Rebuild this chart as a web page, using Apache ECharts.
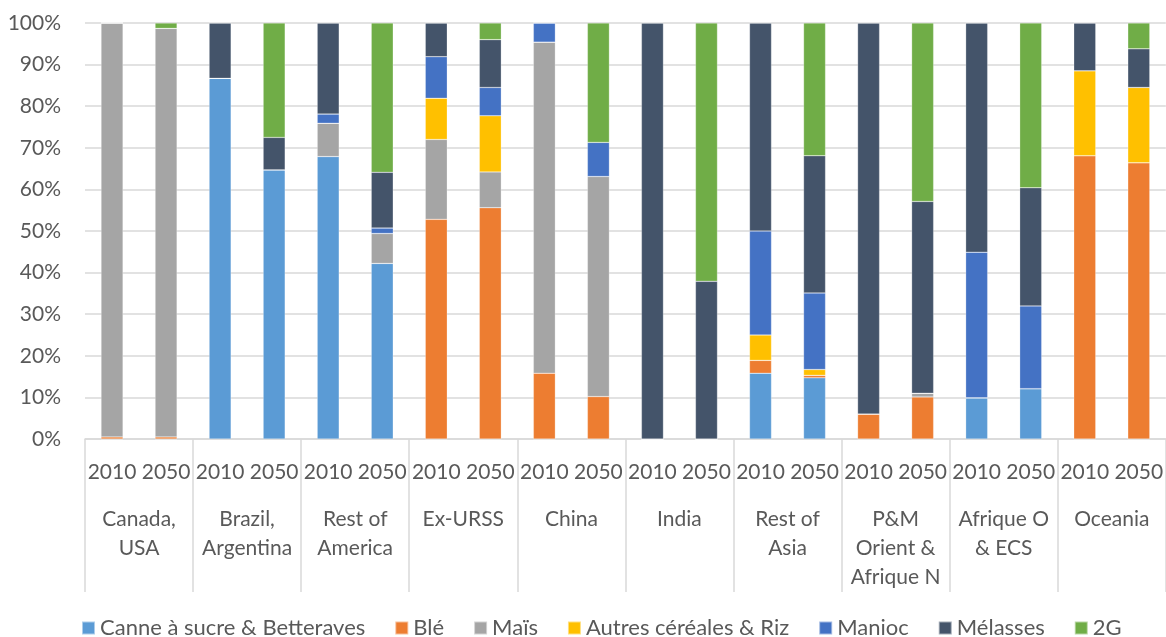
<!DOCTYPE html>
<html>
<head>
<meta charset="utf-8">
<script src="https://cdn.jsdelivr.net/npm/echarts@6/dist/echarts.min.js"></script>
<style>
  html, body { margin: 0; padding: 0; background: #fff; }
  #chart { width: 1166px; height: 637px; }
</style>
</head>
<body>
<div id="chart"></div>
<script>
// regions, each with a 2010 and a 2050 bar
var regions = ['Canada,\nUSA', 'Brazil,\nArgentina', 'Rest of\nAmerica', 'Ex-URSS', 'China', 'India',
  'Rest of\nAsia', 'P&M\nOrient &\nAfrique N', 'Afrique O\n& ECS', 'Oceania'];
var years = ['2010', '2050'];

// shares in %, order: Canada 2010, 2050, Brazil 2010, 2050, ...
var canne    = [0, 0, 86.7, 64.7, 67.9, 42.2, 0, 0, 0, 0, 0, 0, 15.8, 14.7, 0, 0, 9.9, 12.1, 0, 0];
var ble      = [0.5, 0.5, 0, 0, 0, 0, 52.8, 55.6, 15.8, 10.2, 0, 0, 3.1, 0.6, 6.0, 10.1, 0, 0, 68.1, 66.4];
var mais     = [99.5, 98.2, 0, 0, 8.0, 7.2, 19.2, 8.6, 79.6, 52.9, 0, 0, 0, 0, 0, 0.9, 0, 0, 0, 0];
var autres   = [0, 0, 0, 0, 0, 0, 9.9, 13.5, 0, 0, 0, 0, 6.1, 1.4, 0, 0, 0, 0, 20.4, 18.1];
var manioc   = [0, 0, 0, 0, 2.2, 1.3, 10.0, 6.8, 4.6, 8.2, 0, 0, 25.0, 18.4, 0, 0, 35.0, 19.9, 0, 0];
var melasses = [0, 0, 13.3, 7.8, 21.9, 13.4, 8.1, 11.5, 0, 0, 100, 37.9, 50.0, 33.0, 94.0, 46.1, 55.1, 28.4, 11.5, 9.3];
var g2       = [0, 1.3, 0, 27.5, 0, 35.9, 0, 4.0, 0, 28.7, 0, 62.1, 0, 31.9, 0, 42.9, 0, 39.6, 0, 6.2];

var seriesNames = ['Canne à sucre & Betteraves', 'Blé', 'Maïs', 'Autres céréales & Riz', 'Manioc', 'Mélasses', '2G'];
var seriesData = [canne, ble, mais, autres, manioc, melasses, g2];
var colors = ['#5B9BD5', '#ED7D31', '#A5A5A5', '#FFC000', '#4472C4', '#44546A', '#70AD47'];

var yearLabels = [];
regions.forEach(function () { yearLabels = yearLabels.concat(years); });

var txt = '#595959';
var font = 'Lato, "Open Sans", sans-serif';
var fs = 21;

var chart = echarts.init(document.getElementById('chart'));
chart.setOption({
  animation: false,
  color: colors,
  textStyle: { fontFamily: font },
  grid: { left: 85, right: -6, top: 23, bottom: 198 },
  legend: {
    data: seriesNames,
    top: 617,
    left: 81,
    padding: 0,
    itemWidth: 13,
    itemHeight: 13,
    itemGap: 29,
    icon: 'rect',
    textStyle: { color: txt, fontSize: 22, fontFamily: font }
  },
  xAxis: [{
    type: 'category',
    data: yearLabels,
    axisLine: { lineStyle: { color: '#d9d9d9', width: 1.5 } },
    axisTick: { show: false },
    axisLabel: { color: txt, fontSize: fs, margin: 23, interval: 0, fontFamily: font }
  }, {
    type: 'category',
    data: regions,
    position: 'bottom',
    axisLine: { show: false },
    axisTick: { show: true, length: 153, lineStyle: { color: '#d9d9d9', width: 1.5 } },
    axisLabel: { color: txt, fontSize: fs, lineHeight: 29, margin: 66, interval: 0, fontFamily: font, verticalAlign: 'top' }
  }],
  yAxis: {
    type: 'value',
    min: 0,
    max: 100,
    interval: 10,
    axisLabel: { formatter: '{value}%', color: txt, fontSize: fs, margin: 24, fontFamily: font },
    axisLine: { show: false },
    axisTick: { show: false },
    splitLine: { lineStyle: { color: '#d9d9d9', width: 1.5 } }
  },
  series: seriesNames.map(function (name, i) {
    return {
      name: name,
      type: 'bar',
      stack: 'total',
      barWidth: 22,
      xAxisIndex: 0,
      itemStyle: { borderColor: 'rgba(255,255,255,0.5)', borderWidth: 0.5 },
      data: seriesData[i]
    };
  })
});
</script>
</body>
</html>
